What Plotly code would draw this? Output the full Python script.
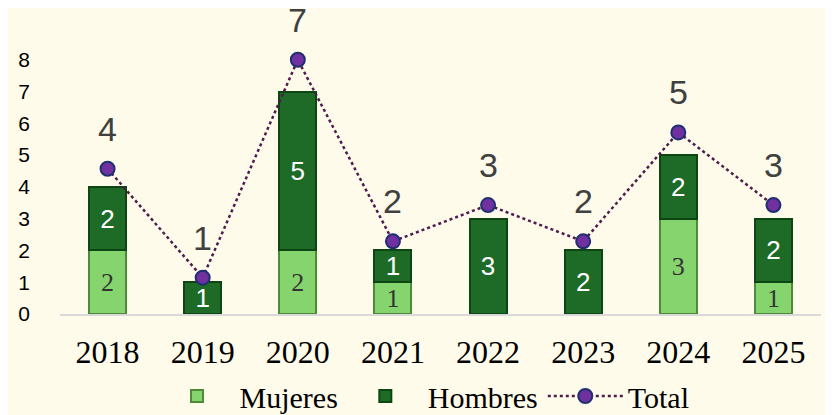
import plotly.graph_objects as go

years = [2018, 2019, 2020, 2021, 2022, 2023, 2024, 2025]
year_labels = ["2018", "2019", "2020", "2021", "2022", "2023", "2024", "2025"]
mujeres = [2, 0, 2, 1, 0, 0, 3, 1]
hombres = [2, 1, 5, 1, 3, 2, 2, 2]
total = [4, 1, 7, 2, 3, 2, 5, 3]

BG = "#FEFBEA"
Y1_MAX = 9
Y2_MAX = Y1_MAX * 7 / 8

fig = go.Figure()
fig.add_trace(go.Bar(
    x=years, y=mujeres, name="Mujeres",
    marker=dict(color="#86D46E", line=dict(color="#4E8A3A", width=2)),
    text=[str(v) if v else "" for v in mujeres],
    textposition="inside", insidetextanchor="middle", textangle=0,
    textfont=dict(family="Liberation Serif", size=28, color="#333333"),
    constraintext="none",
))
fig.add_trace(go.Bar(
    x=years, y=hombres, name="Hombres",
    marker=dict(color="#1E6B28", line=dict(color="#0D4513", width=2)),
    text=[str(v) if v else "" for v in hombres],
    textposition="inside", insidetextanchor="middle", textangle=0,
    textfont=dict(family="Liberation Sans", size=26, color="white"),
    constraintext="none",
))
fig.add_trace(go.Scatter(
    x=years, y=total, name="Total", yaxis="y2", mode="lines+markers",
    line=dict(color="#4E1B4C", width=2.5, dash="dot"),
    marker=dict(color="#7030A0", size=14, line=dict(color="#1F3070", width=2)),
))

for yr, t in zip(years, total):
    fig.add_annotation(x=yr, y=t, yref="y2", text=str(t), showarrow=False,
                       yshift=40, font=dict(family="Liberation Sans", size=34, color="#404040"))

fig.update_layout(
    width=833, height=415,
    paper_bgcolor=BG, plot_bgcolor=BG,
    barmode="stack", bargap=0.61,
    margin=dict(l=52, r=20, t=20, b=109, autoexpand=False),
    uniformtext=dict(minsize=25, mode="show"),
    showlegend=True,
    legend=dict(orientation="h", x=0.5, xanchor="center", xref="container",
                y=0.065, yanchor="middle", yref="container",
                traceorder="normal", itemwidth=75,
                font=dict(family="Liberation Serif", size=30, color="black"),
                bgcolor="rgba(0,0,0,0)", tracegroupgap=0),
    xaxis=dict(range=[years[0] - 0.5, years[-1] + 0.5], tickmode="array",
               tickvals=years, ticktext=year_labels, automargin=False,
               showgrid=False, zeroline=False, showline=True, linecolor="#D9D9D9", linewidth=2,
               ticks="", tickfont=dict(family="Liberation Serif", size=32, color="black"),
               ticklabelstandoff=9),
    yaxis=dict(range=[0, Y1_MAX], tickvals=list(range(0, 9)), showgrid=False,
               zeroline=False, showline=False, automargin=False,
               tickfont=dict(family="Liberation Sans", size=21, color="black"),
               ticklabelstandoff=29),
    yaxis2=dict(range=[0, Y2_MAX], overlaying="y", side="right", visible=False),
)

fig.write_html("out.html")
